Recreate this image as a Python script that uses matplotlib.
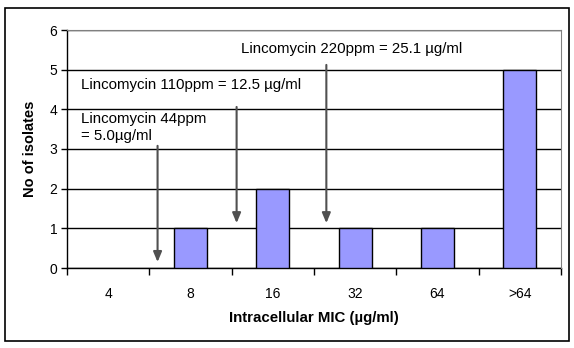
import matplotlib.pyplot as plt
from matplotlib.patches import Rectangle

plt.rcParams['font.family'] = ['Liberation Sans', 'DejaVu Sans']

mic_labels = ['4', '8', '16', '32', '64', '>64']
isolates = [0, 1, 2, 1, 1, 5]

# lincomycin reference concentrations: label, arrow x (in category units), arrow start/end y
lincomycin_text = ['Lincomycin 44ppm\n= 5.0\u00b5g/ml',
                   'Lincomycin 110ppm = 12.5 \u00b5g/ml',
                   'Lincomycin 220ppm = 25.1 \u00b5g/ml']
arrow_x = [0.60, 1.56, 2.65]
arrow_top = [3.08, 4.06, 5.12]
arrow_tip = [0.15, 1.13, 1.13]
text_xy = [(-0.33, 3.54), (-0.33, 4.61), (1.61, 5.53)]

fig = plt.figure(figsize=(5.74, 3.48), dpi=100)
ax = fig.add_axes([67 / 574, 1 - 268 / 348, (561 - 67) / 574, (268 - 30) / 348])

# outer chart border
fig.patches.append(Rectangle((5 / 574, 1 - 341 / 348), 564 / 574, 333 / 348,
                             transform=fig.transFigure, fill=False,
                             edgecolor='black', linewidth=1.2))

x = list(range(len(mic_labels)))
ax.bar(x, isolates, width=0.4, color='#9999ff', edgecolor='black',
       linewidth=[1 if v > 0 else 0 for v in isolates], zorder=3)

ax.set_xlim(-0.5, 5.5)
ax.set_ylim(0, 6)
ax.set_yticks(range(7))
ax.yaxis.grid(True, color='black', linewidth=1)
ax.set_axisbelow(True)

# category ticks sit on the boundaries, labels in the middle
ax.set_xticks([i - 0.5 for i in range(len(mic_labels) + 1)])
ax.set_xticklabels([])
ax.set_xticks(x, minor=True)
ax.set_xticklabels(mic_labels, minor=True)
ax.tick_params(axis='x', which='major', length=5, width=1, direction='out')
ax.tick_params(axis='x', which='minor', length=0, pad=14, labelsize=10)
ax.tick_params(axis='y', length=4, width=1, direction='out', labelsize=10, pad=3)

for side in ['top', 'right']:
    ax.spines[side].set_color('#808080')
    ax.spines[side].set_zorder(6)
for side in ['left', 'bottom']:
    ax.spines[side].set_linewidth(1)

ax.set_ylabel('No of isolates', fontsize=10.5, fontweight='bold', labelpad=9)
ax.set_xlabel('Intracellular MIC (\u00b5g/ml)', fontsize=10.8, fontweight='bold',
              labelpad=7)

for label, ax_x, y0, y1, (tx, ty) in zip(lincomycin_text, arrow_x, arrow_top,
                                          arrow_tip, text_xy):
    ax.annotate('', xy=(ax_x, y1), xytext=(ax_x, y0),
                arrowprops=dict(arrowstyle='-|>,head_length=0.6,head_width=0.25',
                                color='#505050', linewidth=1.5,
                                shrinkA=0, shrinkB=0), zorder=4)
    ax.text(tx, ty, label, fontsize=10.8, va='center', ha='left',
            linespacing=1.3, zorder=5)

fig.savefig('out.png', dpi=100)
